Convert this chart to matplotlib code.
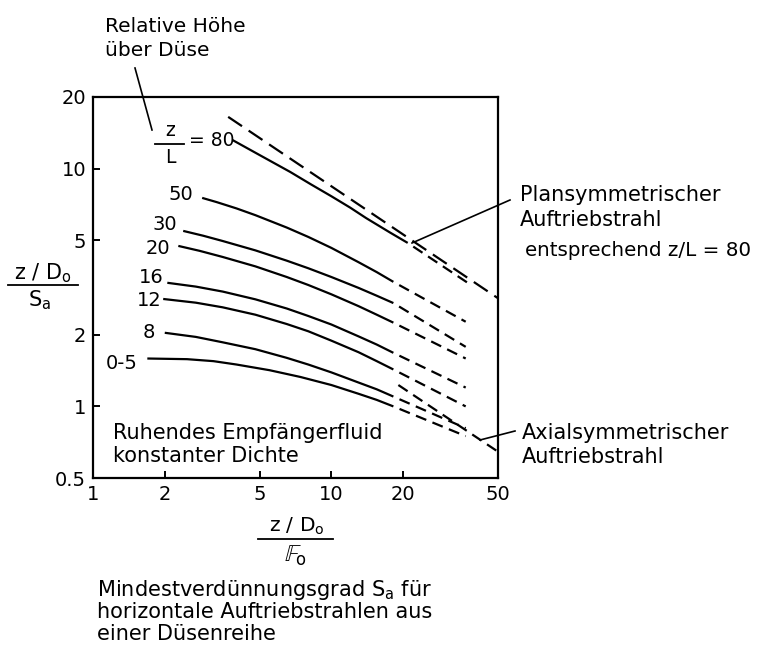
import matplotlib
matplotlib.use("Agg")
import matplotlib.pyplot as plt
from matplotlib.lines import Line2D

W, H = 761, 646

# ---------------- data ----------------
curve_labels = ["50", "30", "20", "16", "12", "8", "0-5"]

x80 = [3.84, 5.0, 6.72, 8.2, 10.0, 12.0, 14.0, 17.7, 20.9]
y80 = [13.2, 11.4, 9.68, 8.59, 7.65, 6.85, 6.19, 5.37, 4.87]
x80_dash = [20.9, 37.3]
y80_dash = [4.87, 3.31]

x50 = [2.87, 3.3, 4.0, 4.8, 6.5, 8.0, 10.0, 13.0, 15.5, 18.2]
y50 = [7.53, 7.23, 6.8, 6.37, 5.65, 5.16, 4.64, 4.04, 3.67, 3.34]
x30 = [2.39, 2.9, 3.5, 4.8, 6.5, 8.0, 10.0, 13.0, 15.5, 18.2]
y30 = [5.47, 5.22, 4.96, 4.53, 4.1, 3.81, 3.5, 3.15, 2.92, 2.72]
x20 = [2.28, 2.8, 3.5, 4.8, 6.5, 8.0, 10.0, 13.0, 15.5, 18.2]
y20 = [4.73, 4.51, 4.25, 3.88, 3.5, 3.24, 2.96, 2.64, 2.43, 2.25]
x16 = [2.05, 2.7, 3.5, 4.8, 6.5, 8.0, 10.0, 13.0, 15.5, 18.2]
y16 = [3.31, 3.19, 3.04, 2.82, 2.58, 2.40, 2.21, 1.97, 1.82, 1.68]
x12 = [1.97, 2.7, 3.5, 4.8, 6.5, 8.0, 10.0, 13.0, 15.5, 18.2]
y12 = [2.83, 2.73, 2.61, 2.43, 2.22, 2.07, 1.89, 1.69, 1.55, 1.43]
x8 = [2.0, 2.7, 3.5, 4.8, 6.5, 8.0, 10.0, 13.0, 15.5, 18.2]
y8 = [2.04, 1.96, 1.86, 1.74, 1.6, 1.50, 1.39, 1.26, 1.18, 1.10]
x05 = [1.69, 2.48, 3.2, 4.0, 5.5, 7.41, 10.0, 13.0, 15.5, 18.2]
y05 = [1.59, 1.58, 1.55, 1.50, 1.42, 1.33, 1.23, 1.13, 1.065, 1.0]

dash_end_x = 36.6
dash_end_y = [2.27, 1.78, 1.59, 1.2, 1.0, 0.81, 0.75]

planar_x = [3.69, 50.0]
planar_y = [16.5, 2.85]
axial_x = [19.1, 50.0]
axial_y = [1.23, 0.645]

xticks = [1, 2, 5, 10, 20, 50]
xticklabels = ["1", "2", "5", "10", "20", "50"]
yticks = [0.5, 1, 2, 5, 10, 20]
yticklabels = ["0.5", "1", "2", "5", "10", "20"]

# ---------------- figure ----------------
plt.rcParams['font.family'] = ['DejaVu Sans']
fig = plt.figure(figsize=(W / 100, H / 100), dpi=100)
L, R, T, B = 93, 498, 97, 478
ax = fig.add_axes([L / W, 1 - B / H, (R - L) / W, (B - T) / H])
ax.set_xscale('log')
ax.set_yscale('log')
ax.set_xlim(1, 50)
ax.set_ylim(0.5, 20)

lw = 1.6
col = 'black'
curves_x = [x50, x30, x20, x16, x12, x8, x05]
curves_y = [y50, y30, y20, y16, y12, y8, y05]

ax.plot(x80, y80, color=col, lw=lw, solid_capstyle='butt')
ax.plot(x80_dash, y80_dash, color=col, lw=lw, linestyle=(5.0, (5.0, 3.0)))
for cx, cy, ey in zip(curves_x, curves_y, dash_end_y):
    ax.plot(cx, cy, color=col, lw=lw, solid_capstyle='butt')
    ax.plot([cx[-1], dash_end_x], [cy[-1], ey], color=col, lw=lw,
            linestyle=(5.0, (5.0, 3.0)))
ax.plot(planar_x, planar_y, color=col, lw=lw, linestyle=(0, (7.5, 3.6)))
ax.plot(axial_x, axial_y, color=col, lw=lw, linestyle=(0, (5.0, 3.0)))

ax.set_xticks(xticks)
ax.set_xticklabels(xticklabels)
ax.set_yticks(yticks)
ax.set_yticklabels(yticklabels)
ax.minorticks_off()
ax.tick_params(direction='in', length=5, width=1.4, labelsize=14, pad=5)
for s in ax.spines.values():
    s.set_linewidth(1.6)


def fx(x):
    return x / W


def fy(y):
    return 1 - y / H


def ftext(x, y, s, ha='left', va='center', size=12.5, **kw):
    fig.text(fx(x), fy(y), s, ha=ha, va=va, fontsize=size, **kw)


def fline(x0, y0, x1, y1, lw=1.2):
    fig.add_artist(Line2D([fx(x0), fx(x1)], [fy(y0), fy(y1)],
                          transform=fig.transFigure, color='black', lw=lw))


# top-left annotation
ftext(105, 27, "Relative Höhe", size=14.5)
ftext(105, 51, "über Düse", size=14.5)
fline(135, 68, 152, 130)

# z/L = 80 label
ftext(170, 131, "z", ha='center', size=13.5)
fline(155, 144, 184, 144, lw=1.3)
ftext(170, 158, "L", ha='center', size=13.5)
ftext(189, 141, "= 80", size=13.5)

# curve labels
label_pos = [(181, 195), (165, 224), (158, 248), (151, 277), (149, 300),
             (149, 333), (122, 363)]
for lab, (px, py) in zip(curve_labels, label_pos):
    ftext(px, py, lab, ha='center', size=14)

# inside text
ftext(113, 433, "Ruhendes Empfängerfluid", size=15)
ftext(113, 456, "konstanter Dichte", size=15)

# right annotations
ftext(520, 195, "Plansymmetrischer", size=15)
ftext(520, 220, "Auftriebstrahl", size=15)
ftext(525, 250, "entsprechend z/L = 80", size=14.3)
fline(510, 200, 412, 243)

ftext(522, 433, "Axialsymmetrischer", size=15)
ftext(522, 457, "Auftriebstrahl", size=15)
fline(515, 431, 480, 440)

# y label (fraction)
ftext(43, 273, r"z / D$_\mathregular{o}$", ha='center', size=15)
fline(8, 285, 78, 285, lw=1.3)
ftext(40, 300, r"S$_\mathregular{a}$", ha='center', size=15)

# x label (fraction)
ftext(297, 526, r"z / D$_\mathregular{o}$", ha='center', size=14.5)
fline(258, 539, 333, 539, lw=1.3)
ftext(295, 556, r"$\mathbb{F}_\mathregular{o}$", ha='center', size=17)

# caption
ftext(97, 590, r"Mindestverdünnungsgrad S$_\mathregular{a}$ für", size=15)
ftext(97, 612, "horizontale Auftriebstrahlen aus", size=15)
ftext(97, 634, "einer Düsenreihe", size=15)

fig.savefig("out.png", dpi=100, facecolor='white')
